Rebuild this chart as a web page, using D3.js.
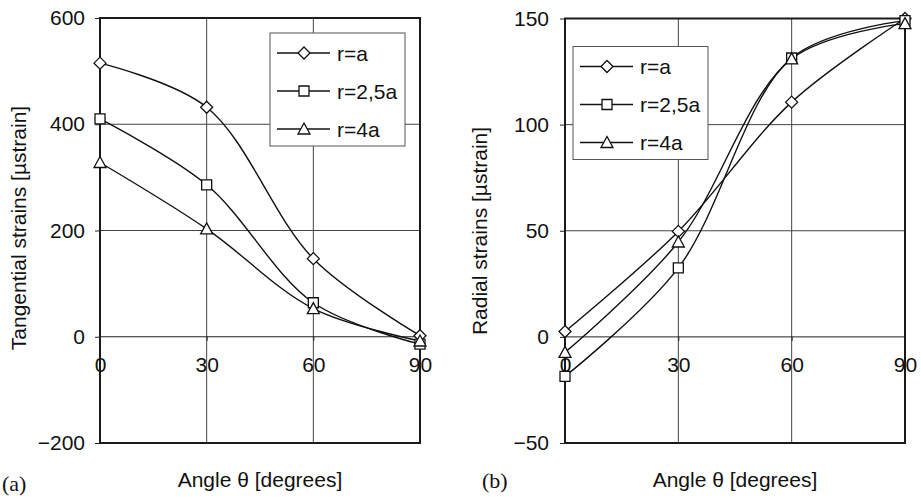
<!DOCTYPE html>
<html lang="en">
<head>
<meta charset="UTF-8">
<title>Strains vs angle</title>
<style>
    body { margin: 0; background: #fff; }
    text { font-family: "Liberation Sans", Arial, sans-serif; fill: #111; }
    .grid line { stroke: #444; stroke-width: 1; }
    .frame { fill: none; stroke: #1a1a1a; stroke-width: 2; }
    .line { fill: none; stroke: #111; stroke-width: 1.4; }
    .marker { fill: #fff; stroke: #111; stroke-width: 1.3; }
    .legend-box { fill: #fff; stroke: #555; stroke-width: 1; }
    .panel-label { font-family: "Liberation Serif", "Times New Roman", serif; }
</style>
</head>
<body>
<svg width="921" height="503"></svg>
<script src="https://d3js.org/d3.v7.min.js"></script>
<script>
// angles on x axis
var angles = [0, 30, 60, 90];
var seriesNames = ["r=a", "r=2,5a", "r=4a"];
var markerTypes = ["diamond", "square", "triangle"];

// panel (a) tangential strains
var tangA = [515, 432, 147, 2];
var tang25A = [410, 286, 64, -14];
var tang4A = [328, 203, 53, -8];
var tangTicks = [-200, 0, 200, 400, 600];

// panel (b) radial strains
var radA = [2.5, 49.7, 110.6, 150];
var rad25A = [-18.6, 32.5, 131.4, 149];
var rad4A = [-7.3, 44.7, 131, 147.6];
var radTicks = [-50, 0, 50, 100, 150];

var svg = d3.select("svg");
var FONT = "21px";

function markerPath(type) {
    if (type == "diamond") return "M0,-6L6,0L0,6L-6,0Z";
    if (type == "square") return "M-5,-5L5,-5L5,5L-5,5Z";
    return "M0,-6L6,5L-6,5Z";
}

function drawPanel(opt) {
    var g = svg.append("g");
    var x = d3.scaleLinear().domain([0, 90]).range([opt.left, opt.right]);
    var y = d3.scaleLinear().domain(opt.yDomain).range([opt.bottom, opt.top]);

    // grid
    var grid = g.append("g").attr("class", "grid");
    grid.selectAll(".gx").data(angles.slice(1, 3)).enter().append("line")
        .attr("x1", function(d) { return x(d); }).attr("x2", function(d) { return x(d); })
        .attr("y1", opt.top).attr("y2", opt.bottom);
    grid.selectAll(".gy").data(opt.ticks.filter(function(d) { return d != opt.yDomain[0] && d != opt.yDomain[1]; }))
        .enter().append("line")
        .attr("x1", opt.left).attr("x2", opt.right)
        .attr("y1", function(d) { return y(d); }).attr("y2", function(d) { return y(d); })
        .style("stroke", function(d) { return d == 0 ? "#222" : null; });

    g.append("rect").attr("class", "frame")
        .attr("x", opt.left).attr("y", opt.top)
        .attr("width", opt.right - opt.left).attr("height", opt.bottom - opt.top);

    // y axis
    var yAxis = d3.axisLeft(y).tickValues(opt.ticks).tickSize(5).tickPadding(opt.yPad)
        .tickFormat(d3.format("d"));
    var ya = g.append("g").attr("transform", "translate(" + opt.left + ",0)").call(yAxis);
    ya.select(".domain").remove();
    ya.selectAll("line").attr("stroke", "#222");
    ya.selectAll("text").style("font-size", FONT).style("font-family", "Liberation Sans, Arial, sans-serif");

    // x axis crossing at zero
    var xAxis = d3.axisBottom(x).tickValues(angles).tickSize(4).tickPadding(16)
        .tickFormat(d3.format("d"));
    var xa = g.append("g").attr("transform", "translate(0," + y(0) + ")").call(xAxis);
    xa.select(".domain").remove();
    xa.selectAll("line").attr("stroke", "#222");
    xa.selectAll("text").style("font-size", FONT).style("font-family", "Liberation Sans, Arial, sans-serif");

    // series
    var line = d3.line()
        .x(function(d, i) { return x(angles[i]); })
        .y(function(d) { return y(d); })
        .curve(d3.curveCatmullRom.alpha(0.5));

    opt.series.forEach(function(s, k) {
        g.append("path").datum(s).attr("class", "line").attr("d", line);
    });
    opt.series.forEach(function(s, k) {
        g.selectAll(".m" + k).data(s).enter().append("path")
            .attr("class", "marker")
            .attr("d", markerPath(markerTypes[k]))
            .attr("transform", function(d, i) { return "translate(" + x(angles[i]) + "," + y(d) + ")"; });
    });

    // legend
    var lg = g.append("g");
    lg.append("rect").attr("class", "legend-box")
        .attr("x", opt.legend[0]).attr("y", opt.legend[1])
        .attr("width", 135).attr("height", 113);
    seriesNames.forEach(function(name, k) {
        var ly = opt.legend[1] + 20 + k * 38;
        var lx = opt.legend[0] + 7;
        lg.append("line").attr("x1", lx).attr("x2", lx + 53)
            .attr("y1", ly).attr("y2", ly).attr("stroke", "#111").attr("stroke-width", 1.4);
        lg.append("path").attr("class", "marker").attr("d", markerPath(markerTypes[k]))
            .attr("transform", "translate(" + (lx + 27) + "," + ly + ")");
        lg.append("text").attr("x", lx + 60).attr("y", ly + 7.5)
            .style("font-size", FONT).text(name);
    });

    // titles
    g.append("text")
        .attr("transform", "translate(" + opt.yTitleX + "," + opt.yTitleY + ") rotate(-90)")
        .attr("text-anchor", "middle").style("font-size", FONT).text(opt.yTitle);
    g.append("text").attr("x", (opt.left + opt.right) / 2).attr("y", 487)
        .attr("text-anchor", "middle").style("font-size", FONT).text("Angle θ [degrees]");
    g.append("text").attr("class", "panel-label").attr("x", opt.labelX).attr("y", opt.labelY)
        .style("font-size", "22px").text(opt.label);
}

drawPanel({
    left: 100, right: 420, top: 18, bottom: 443,
    yDomain: [-200, 600], ticks: tangTicks, yPad: 10,
    series: [tangA, tang25A, tang4A],
    legend: [270, 33],
    yTitle: "Tangential strains [µstrain]", yTitleX: 26, yTitleY: 228,
    label: "(a)", labelX: 2, labelY: 491
});

drawPanel({
    left: 565, right: 905, top: 18.5, bottom: 443,
    yDomain: [-50, 150], ticks: radTicks, yPad: 11,
    series: [radA, rad25A, rad4A],
    legend: [573, 46.5],
    yTitle: "Radial strains [µstrain]", yTitleX: 487, yTitleY: 231,
    label: "(b)", labelX: 482, labelY: 488
});
</script>
</body>
</html>
